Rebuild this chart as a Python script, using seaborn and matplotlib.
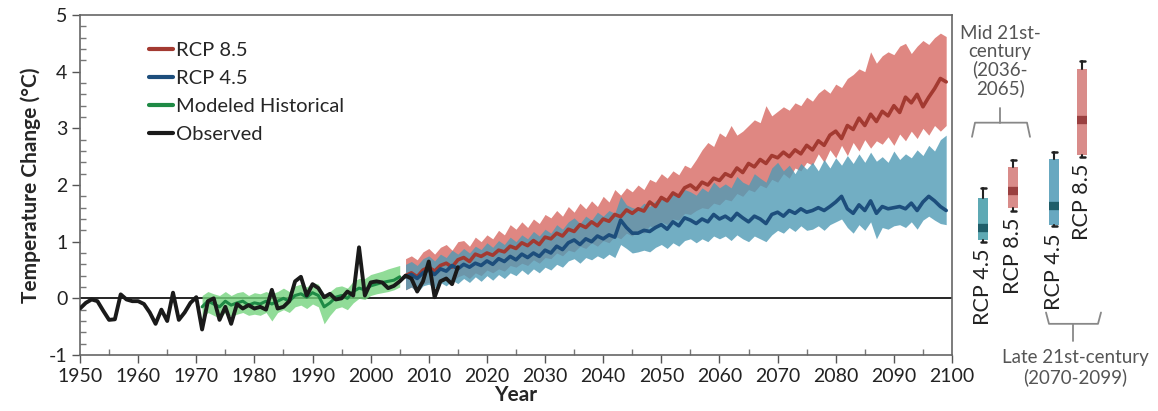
import numpy as np
import matplotlib
matplotlib.use("Agg")
import matplotlib.pyplot as plt
from matplotlib.lines import Line2D
from matplotlib.ticker import MultipleLocator
import seaborn as sns

# Observed anomalies (1950-2015)
obs_years = list(range(1950, 2016))
obs_vals = [-0.18, -0.08, -0.02, -0.05, -0.22, -0.38, -0.37, 0.07, -0.02, -0.05,
            -0.05, -0.10, -0.25, -0.45, -0.20, -0.40, 0.10, -0.38, -0.25, -0.08,
            0.02, -0.55, -0.05, 0.00, -0.38, -0.15, -0.45, -0.10, -0.18, -0.12,
            -0.18, -0.15, -0.20, 0.15, -0.18, -0.15, -0.05, 0.30, 0.38, 0.05,
            0.25, 0.18, 0.02, 0.08, -0.02, 0.00, 0.12, 0.05, 0.90, 0.05,
            0.28, 0.30, 0.28, 0.18, 0.22, 0.30, 0.40, 0.35, 0.12, 0.30,
            0.65, 0.02, 0.30, 0.35, 0.25, 0.55]

# Modeled historical (1971-2005)
hist_years = list(range(1971, 2006))
hist_mean = [-0.15, -0.05, -0.10, -0.15, -0.05, -0.12, -0.08, -0.05, -0.12, -0.08,
             -0.10, -0.05, -0.10, -0.05, 0.00, -0.05, 0.05, 0.08, 0.02, 0.10,
             0.05, -0.15, -0.08, 0.02, 0.05, 0.00, 0.12, 0.18, 0.15, 0.22,
             0.25, 0.28, 0.30, 0.32, 0.38]
hist_hi = [0.05, 0.12, 0.08, 0.05, 0.12, 0.05, 0.10, 0.12, 0.05, 0.10,
           0.08, 0.12, 0.08, 0.12, 0.18, 0.12, 0.22, 0.25, 0.20, 0.28,
           0.25, 0.05, 0.12, 0.20, 0.22, 0.18, 0.30, 0.35, 0.35, 0.42,
           0.45, 0.48, 0.52, 0.55, 0.58]
hist_lo = [-0.35, -0.25, -0.30, -0.35, -0.25, -0.32, -0.28, -0.25, -0.30, -0.28,
           -0.30, -0.25, -0.40, -0.25, -0.20, -0.25, -0.15, -0.12, -0.18, -0.10,
           -0.15, -0.45, -0.30, -0.18, -0.15, -0.20, -0.08, 0.00, -0.02, 0.05,
           0.08, 0.10, 0.12, 0.15, 0.20]

# Projections (2006-2099)
proj_years = list(range(2006, 2100))
rcp85_mean = [0.40, 0.45, 0.38, 0.50, 0.55, 0.48, 0.58, 0.62, 0.55, 0.68,
              0.72, 0.65, 0.78, 0.74, 0.80, 0.76, 0.85, 0.82, 0.92, 0.88,
              0.98, 0.93, 1.02, 0.95, 1.08, 1.05, 1.15, 1.10, 1.22, 1.18,
              1.30, 1.25, 1.35, 1.28, 1.40, 1.36, 1.48, 1.44, 1.56, 1.50,
              1.58, 1.54, 1.70, 1.62, 1.78, 1.72, 1.86, 1.80, 1.95, 2.00,
              1.92, 2.05, 2.00, 2.12, 2.08, 2.20, 2.15, 2.30, 2.22, 2.38,
              2.32, 2.45, 2.38, 2.52, 2.48, 2.58, 2.50, 2.62, 2.55, 2.70,
              2.62, 2.78, 2.70, 2.88, 2.95, 2.82, 3.05, 2.98, 3.18, 3.05,
              3.25, 3.12, 3.30, 3.22, 3.40, 3.28, 3.55, 3.45, 3.60, 3.38,
              3.55, 3.70, 3.88, 3.82]
rcp85_hi = [0.70, 0.75, 0.68, 0.82, 0.88, 0.78, 0.90, 0.95, 0.85, 1.00,
            1.02, 0.92, 1.08, 1.00, 1.12, 1.05, 1.20, 1.12, 1.30, 1.22,
            1.35, 1.25, 1.40, 1.32, 1.48, 1.42, 1.55, 1.45, 1.62, 1.52,
            1.68, 1.58, 1.72, 1.62, 1.80, 1.70, 1.92, 1.82, 1.95, 1.88,
            2.00, 1.92, 2.10, 2.05, 2.20, 2.12, 2.25, 2.18, 2.35, 2.30,
            2.45, 2.62, 2.75, 2.68, 2.92, 2.85, 3.05, 2.88, 2.95, 3.05,
            3.15, 3.10, 3.40, 3.22, 3.30, 3.38, 3.32, 3.45, 3.40, 3.55,
            3.48, 3.62, 3.70, 3.62, 3.78, 3.72, 3.88, 3.95, 4.05, 4.00,
            4.35, 4.15, 4.28, 4.35, 4.30, 4.45, 4.50, 4.32, 4.45, 4.55,
            4.48, 4.60, 4.68, 4.62]
rcp85_lo = [0.15, 0.20, 0.12, 0.25, 0.28, 0.22, 0.30, 0.35, 0.28, 0.38,
            0.42, 0.35, 0.45, 0.40, 0.50, 0.45, 0.52, 0.48, 0.58, 0.55,
            0.62, 0.58, 0.68, 0.62, 0.72, 0.70, 0.80, 0.75, 0.85, 0.82,
            0.92, 0.88, 0.98, 0.92, 1.02, 0.98, 1.10, 1.05, 1.15, 1.10,
            1.20, 1.15, 1.28, 1.22, 1.35, 1.30, 1.40, 1.38, 1.50, 1.48,
            1.55, 1.60, 1.58, 1.68, 1.65, 1.75, 1.72, 1.85, 1.80, 1.92,
            1.88, 2.00, 1.95, 2.10, 2.05, 2.20, 2.12, 2.30, 2.25, 2.40,
            2.35, 2.55, 2.40, 2.62, 2.48, 2.70, 2.52, 2.75, 2.60, 2.80,
            2.65, 2.78, 2.72, 2.85, 2.70, 2.90, 2.78, 2.95, 2.82, 3.00,
            2.88, 3.05, 2.95, 3.05]
rcp45_mean = [0.38, 0.42, 0.35, 0.45, 0.50, 0.42, 0.52, 0.48, 0.58, 0.52,
              0.60, 0.55, 0.62, 0.58, 0.66, 0.60, 0.70, 0.65, 0.74, 0.68,
              0.78, 0.72, 0.80, 0.74, 0.85, 0.80, 0.92, 0.86, 0.98, 1.03,
              0.95, 1.05, 1.00, 1.10, 1.05, 1.12, 1.08, 1.38, 1.25, 1.15,
              1.15, 1.20, 1.18, 1.25, 1.30, 1.22, 1.35, 1.28, 1.42, 1.38,
              1.32, 1.40, 1.35, 1.48, 1.40, 1.45, 1.38, 1.50, 1.42, 1.35,
              1.45, 1.40, 1.32, 1.48, 1.52, 1.45, 1.55, 1.50, 1.58, 1.52,
              1.55, 1.60, 1.55, 1.62, 1.70, 1.80, 1.58, 1.50, 1.65, 1.55,
              1.72, 1.50, 1.62, 1.58, 1.60, 1.62, 1.58, 1.68, 1.55, 1.70,
              1.80, 1.72, 1.62, 1.55]
rcp45_hi = [0.60, 0.65, 0.58, 0.70, 0.75, 0.66, 0.78, 0.72, 0.85, 0.78,
            0.88, 0.80, 0.92, 0.86, 0.98, 0.90, 1.02, 0.95, 1.08, 1.00,
            1.12, 1.05, 1.18, 1.10, 1.22, 1.15, 1.30, 1.22, 1.35, 1.42,
            1.32, 1.45, 1.38, 1.52, 1.45, 1.55, 1.50, 1.80, 1.65, 1.60,
            1.58, 1.68, 1.62, 1.72, 1.80, 1.70, 1.85, 1.78, 1.92, 1.88,
            1.82, 1.95, 1.88, 2.05, 1.95, 2.02, 1.95, 2.15, 2.05, 2.00,
            2.20, 2.12, 2.05, 2.30, 2.40, 2.25, 2.35, 2.20, 2.38, 2.28,
            2.40, 2.25, 2.45, 2.30, 2.48, 2.35, 2.52, 2.38, 2.55, 2.40,
            2.58, 2.42, 2.50, 2.40, 2.60, 2.45, 2.55, 2.48, 2.62, 2.52,
            2.70, 2.60, 2.80, 2.88]
rcp45_lo = [0.15, 0.20, 0.10, 0.22, 0.25, 0.18, 0.28, 0.22, 0.32, 0.26,
            0.35, 0.28, 0.38, 0.30, 0.40, 0.32, 0.42, 0.35, 0.45, 0.40,
            0.50, 0.42, 0.52, 0.45, 0.55, 0.50, 0.60, 0.55, 0.66, 0.70,
            0.62, 0.72, 0.68, 0.75, 0.70, 0.78, 0.72, 0.95, 0.88, 0.80,
            0.82, 0.85, 0.82, 0.90, 0.95, 0.88, 0.98, 0.92, 1.02, 1.05,
            0.98, 1.05, 1.00, 1.10, 1.05, 1.10, 1.02, 1.12, 1.05, 1.00,
            1.10, 1.05, 1.00, 1.12, 1.20, 1.15, 1.25, 1.18, 1.28, 1.20,
            1.22, 1.28, 1.20, 1.30, 1.35, 1.40, 1.25, 1.15, 1.30, 1.20,
            1.35, 1.05, 1.25, 1.22, 1.28, 1.30, 1.25, 1.35, 1.22, 1.38,
            1.45, 1.38, 1.32, 1.30]

# Period summaries: mid (2036-2065) and late (2070-2099)
box_labels = ["RCP 4.5", "RCP 8.5", "RCP 4.5", "RCP 8.5"]
box_whislo = [1.00, 1.55, 1.27, 2.50]
box_q1 = [1.03, 1.59, 1.29, 2.53]
box_med = [1.24, 1.90, 1.63, 3.14]
box_q3 = [1.77, 2.32, 2.45, 4.04]
box_whishi = [1.95, 2.44, 2.59, 4.18]

sns.set_theme(style="white")
plt.rcParams["font.family"] = ["Lato", "DejaVu Sans"]
plt.rcParams["axes.unicode_minus"] = False

c85_band, c85_line = "#DC7A74", "#A33A31"
c45_band, c45_line = "#4F9AB5", "#1D4E7C"
chist_band, chist_line = "#76D47E", "#1F8A45"
txt_gray = "#555555"

fig = plt.figure(figsize=(11.58, 4.11), dpi=100)
ax = fig.add_axes([80 / 1158, 56 / 411, 872 / 1158, 340 / 411])

ax.axhline(0, color="black", lw=1.2, zorder=1)
ax.fill_between(hist_years, hist_lo, hist_hi, color=chist_band, alpha=0.8, lw=0, zorder=2)
ax.fill_between(proj_years, rcp85_lo, rcp85_hi, color=c85_band, alpha=0.9, lw=0, zorder=2)
ax.fill_between(proj_years, rcp45_lo, rcp45_hi, color=c45_band, alpha=0.8, lw=0, zorder=3)
sns.lineplot(x=hist_years, y=hist_mean, color=chist_line, lw=2.2, ax=ax, zorder=4)
sns.lineplot(x=proj_years, y=rcp85_mean, color=c85_line, lw=2.6, ax=ax, zorder=4)
sns.lineplot(x=proj_years, y=rcp45_mean, color=c45_line, lw=2.6, ax=ax, zorder=4)
sns.lineplot(x=obs_years, y=obs_vals, color="#1a1a1a", lw=2.8, ax=ax, zorder=5)

ax.set_xlim(1950, 2100)
ax.set_ylim(-1, 5)
ax.xaxis.set_major_locator(MultipleLocator(10))
ax.xaxis.set_minor_locator(MultipleLocator(5))
ax.yaxis.set_major_locator(MultipleLocator(1))
ax.yaxis.set_minor_locator(MultipleLocator(0.2))
ax.tick_params(axis="both", which="major", direction="out", length=6, width=1,
               color="#555555", labelsize=14, labelcolor="#222222", pad=3,
               bottom=True, left=True)
ax.tick_params(axis="both", which="minor", direction="in", length=4, width=1,
               color="#777777", bottom=True, left=True)
for s in ax.spines.values():
    s.set_color("#666666")
    s.set_linewidth(1.2)
ax.set_xlabel("Year", fontsize=15, fontweight="bold", labelpad=0)
ax.set_ylabel("Temperature Change (°C)", fontsize=15, fontweight="bold", labelpad=6)

handles = [Line2D([], [], color=c85_line, lw=3),
           Line2D([], [], color=c45_line, lw=3),
           Line2D([], [], color=chist_line, lw=3),
           Line2D([], [], color="#1a1a1a", lw=3)]
ax.legend(handles, ["RCP 8.5", "RCP 4.5", "Modeled Historical", "Observed"],
          loc="upper left", bbox_to_anchor=(0.058, 0.975), frameon=False,
          fontsize=14.5, handlelength=1.2, handletextpad=0.15, labelspacing=0.55)

# Side panel with the period boxes, x in pixel-like units
ax2 = fig.add_axes([955 / 1158, 56 / 411, 203 / 1158, 340 / 411])
ax2.set_xlim(0, 203)
ax2.set_ylim(-1, 5)
ax2.axis("off")

box_pos = [28, 58, 99, 127]
box_fill = ["#5EA9B4", "#D98C8A", "#68A8C0", "#D98C8A"]
box_mid = ["#1F5E6A", "#9A4040", "#1F5E6A", "#9A4040"]
stats = []
for i in range(4):
    stats.append({"whislo": box_whislo[i], "q1": box_q1[i], "med": box_med[i],
                  "q3": box_q3[i], "whishi": box_whishi[i], "fliers": []})
bp = ax2.bxp(stats, positions=box_pos, widths=10, patch_artist=True,
             showfliers=False, capwidths=5,
             whiskerprops={"color": "#222222", "lw": 1.5},
             capprops={"color": "#222222", "lw": 1.8},
             medianprops={"lw": 6})
for i, patch in enumerate(bp["boxes"]):
    patch.set_facecolor(box_fill[i])
    patch.set_edgecolor("none")
    bp["medians"][i].set_color(box_mid[i])
    ax2.text(box_pos[i], box_whislo[i] - 0.12, box_labels[i], rotation=90,
             ha="center", va="top", fontsize=15.5, color="#222222")

# Brackets
ax2.plot([17, 20, 72, 75], [2.85, 3.10, 3.10, 2.85], color="#888888", lw=1.3, clip_on=False)
ax2.plot([45, 45], [3.10, 3.35], color="#888888", lw=1.3, clip_on=False)
ax2.text(45, 3.55, "Mid 21st-\ncentury\n(2036-\n2065)", ha="center", va="bottom",
         fontsize=13.5, color=txt_gray, linespacing=1.05)
ax2.plot([91, 94, 143, 146], [-0.25, -0.45, -0.45, -0.25], color="#888888", lw=1.3, clip_on=False)
ax2.plot([118, 118], [-0.45, -0.75], color="#888888", lw=1.3, clip_on=False)
ax2.text(120, -0.9, "Late 21st-century\n(2070-2099)", ha="center", va="top",
         fontsize=13.5, color=txt_gray, linespacing=1.1)

fig.savefig("out.png", dpi=100)
